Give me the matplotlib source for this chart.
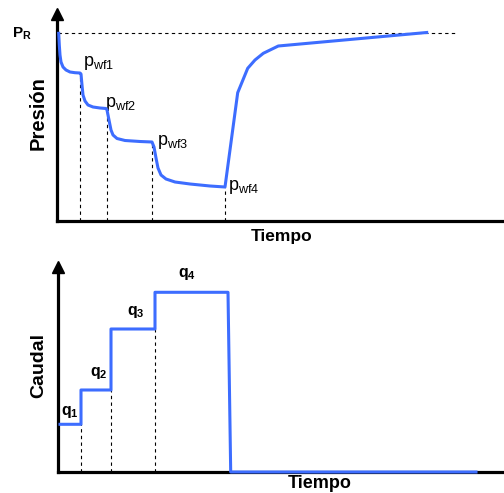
import matplotlib
matplotlib.use("Agg")
import matplotlib.pyplot as plt

plt.rcParams['font.family'] = ['Liberation Sans', 'DejaVu Sans']
plt.rcParams['mathtext.fontset'] = 'custom'
plt.rcParams['mathtext.rm'] = 'Liberation Sans'
plt.rcParams['mathtext.bf'] = 'Liberation Sans:bold'

# ---- Data (arbitrary time / pressure / rate units) ----
time_p = [1.7, 2.3, 3, 4, 6, 9, 13, 18, 23,
          24, 25, 26, 28, 31, 36, 43, 49,
          50, 52, 54, 56, 60, 68, 83, 95,
          97, 99, 101, 104, 109, 118, 133, 153, 168,
          180.7, 190.7, 198, 206.3, 221.3, 369.7]
pressure = [187.7, 176, 166, 159, 154, 151, 149, 148.3, 148,
            147, 136, 126, 120, 116, 114, 113, 112.5,
            111, 101, 91, 86, 82.5, 80.5, 79.5, 79,
            74, 63, 53, 46, 42, 39, 37, 35, 34,
            128.3, 152.7, 161, 167.7, 175, 188.5]
p_reservoir = 188
pr_line_t = [1, 398]
pwf_times = [23, 50, 95, 168]
pwf_values = [148, 112, 79, 34]
pwf_labels = ['wf1', 'wf2', 'wf3', 'wf4']

time_q = [2, 23, 23, 53, 53, 97, 97, 170, 172.7, 418]
rate_q = [47.7, 47.7, 82, 82, 143, 143, 179.7, 179.7, 0, 0]
q_change_t = [23, 53, 97]
q_change_v = [47.7, 82, 143]
q_labels = ['1', '2', '3', '4']

BLUE = '#3d6dff'
W, H = 504, 493
fig = plt.figure(figsize=(W / 100, H / 100), dpi=100)

def fx(x):
    return x / W

def fy(y):
    return 1 - y / H

def style_axes(ax):
    for s in ['top', 'right']:
        ax.spines[s].set_visible(False)
    for s in ['left', 'bottom']:
        ax.spines[s].set_linewidth(2.3)
        ax.spines[s].set_color('black')
        ax.spines[s].set_capstyle('projecting')
    ax.set_xticks([])
    ax.set_yticks([])
    ax.plot(0, 1, marker='^', color='black', markersize=8, transform=ax.transAxes,
            clip_on=False, zorder=5)

# ---- Top: pressure ----
ax1 = fig.add_axes([fx(57), fy(221), (W - 57) / W, (221 - 14) / H])
ax1.set_xlim(0, 447)
ax1.set_ylim(0, 207)
style_axes(ax1)
ax1.plot(pr_line_t, [p_reservoir, p_reservoir], color='black', lw=0.8, ls=(0, (3, 3)))
for t, v in zip(pwf_times, pwf_values):
    ax1.plot([t, t], [0, v], color='black', lw=0.8, ls=(0, (3, 3)))
ax1.plot(time_p, pressure, color=BLUE, lw=2.2, clip_on=False, zorder=4,
         solid_joinstyle='round')

pwf_pos = [(26, 155), (48, 114), (100, 76), (171, 31)]
for (tx, ty), lab in zip(pwf_pos, pwf_labels):
    ax1.text(tx, ty, r'$\mathregular{p_{%s}}$' % lab, fontsize=13, ha='left', va='baseline')
ax1.text(-45, 183, r'$\mathbf{P_{R}}$', fontsize=11, ha='left', va='baseline')

# ---- Bottom: rate ----
ax2 = fig.add_axes([fx(58), fy(472), (W - 58) / W, (472 - 267) / H])
ax2.set_xlim(0, 446)
ax2.set_ylim(0, 205)
style_axes(ax2)
for t, v in zip(q_change_t, q_change_v):
    ax2.plot([t, t], [0, v], color='black', lw=0.8, ls=(0, (3, 3)))
ax2.plot(time_q, rate_q, color=BLUE, lw=2.2, clip_on=False, zorder=4)

q_pos = [(3, 57), (32, 96), (69, 157), (120, 195)]
for (tx, ty), lab in zip(q_pos, q_labels):
    ax2.text(tx, ty, r'$\mathbf{q_{%s}}$' % lab, fontsize=11.5, ha='left', va='baseline')

# ---- Axis titles ----
fig.text(fx(38), fy(113), 'Presión', rotation=90, fontsize=14.5, fontweight='bold',
         ha='center', va='center')
fig.text(fx(39), fy(365), 'Caudal', rotation=90, fontsize=14, fontweight='bold',
         ha='center', va='center')
fig.text(fx(282), fy(237), 'Tiempo', fontsize=12.5, fontweight='bold', ha='center', va='center')
fig.text(fx(320), fy(484), 'Tiempo', fontsize=13, fontweight='bold', ha='center', va='center')

fig.savefig('out.png', dpi=100, facecolor='white')
